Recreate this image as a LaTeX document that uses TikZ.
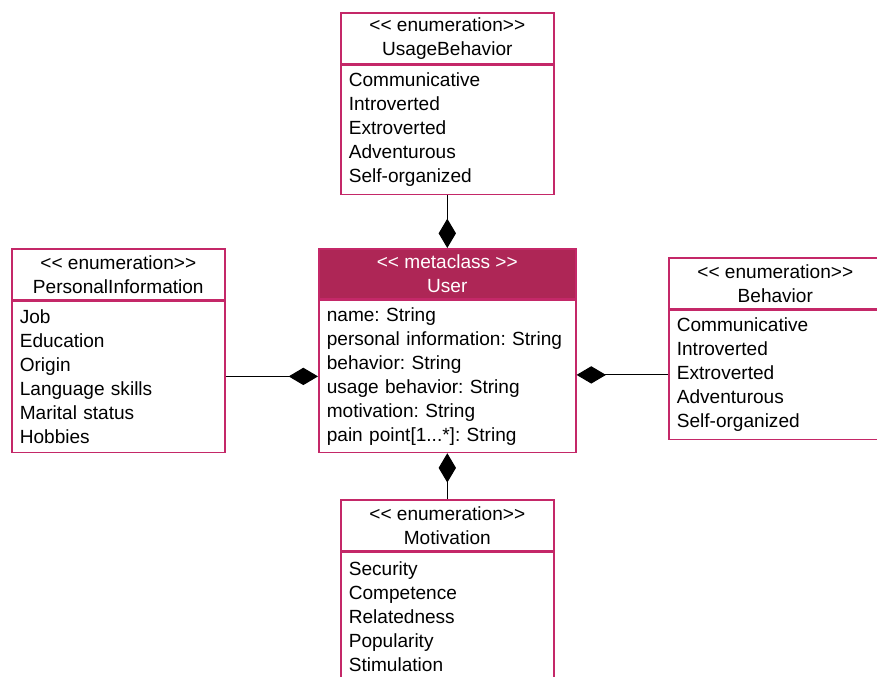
\documentclass[tikz,border=0pt]{standalone}
\usepackage{fontspec}
\setmainfont{Liberation Sans}
\usetikzlibrary{positioning,arrows.meta}

\definecolor{umlborder}{RGB}{196,40,104}
\definecolor{umlhead}{RGB}{174,38,86}

\tikzset{
  head/.style={draw=umlborder, line width=1.2pt, minimum height=38.25pt, align=center,
               inner sep=0pt, font=\fontsize{14.3}{18}\selectfont\frenchspacing},
  body/.style={draw=umlborder, line width=1.2pt, align=left, inner xsep=6pt, inner ysep=0pt,
               font=\fontsize{14.3}{18}\selectfont\frenchspacing},
  link/.style={line width=0.8pt, -{Diamond[length=22pt, width=13pt]}}
}

\begin{document}
\begin{tikzpicture}[x=0.75pt, y=-0.75pt]
                    \useasboundingbox (0,0) rectangle (877,676);
                    \begin{scope}
                    \clip (0,0) rectangle (877,676);
                    % Boxes
                    \node[head, minimum width=159.75pt, anchor=north west] (usagehead) at (340,12)
                        {{<}{<} enumeration{>}{>}\\UsageBehavior};
                    \node[body, text width=147.75pt, minimum height=96.75pt, below=0pt of usagehead] (usagebody)
                        {Communicative\\Introverted\\Extroverted\\Adventurous\\Self-organized};

                    \node[head, minimum width=159.75pt, anchor=north west] (personalhead) at (11,248)
                        {{<}{<} enumeration{>}{>}\\PersonalInformation};
                    \node[body, text width=147.75pt, minimum height=113.25pt, below=0pt of personalhead] (personalbody)
                        {Job\\Education\\Origin\\Language skills\\Marital status\\Hobbies};

                    \node[head, fill=umlhead, text=white, minimum width=192.75pt, minimum height=37.5pt,
                          anchor=north west] (userhead) at (318,248)
                        {{<}{<} metaclass {>}{>}\\User};
                    \node[body, text width=180.75pt, minimum height=114pt, below=0pt of userhead] (userbody)
                        {name: String\\personal information: String\\behavior: String\\usage behavior: String\\
                         motivation: String\\pain point[1...*]: String};

                    \node[head, minimum width=159.75pt, anchor=north west] (behaviorhead) at (668,257)
                        {{<}{<} enumeration{>}{>}\\Behavior};
                    \node[body, text width=147.75pt, minimum height=96.75pt, below=0pt of behaviorhead] (behaviorbody)
                        {Communicative\\Introverted\\Extroverted\\Adventurous\\Self-organized};

                    \node[head, minimum width=159.75pt, anchor=north west] (motivationhead) at (340,499)
                        {{<}{<} enumeration{>}{>}\\Motivation};
                    \node[body, text width=147.75pt, minimum height=96.75pt, below=0pt of motivationhead] (motivationbody)
                        {Security\\Competence\\Relatedness\\Popularity\\Stimulation};

                    % Compositions
                    \draw[link] (usagebody.south) -- (userhead.north);
                    \draw[link] (personalbody.east |- userbody.west) -- (userbody.west);
                    \draw[link] (behaviorbody.west) -- (userbody.east |- behaviorbody.west);
                    \draw[link] (motivationhead.north) -- (userbody.south);
                    \end{scope}
                \end{tikzpicture}
\end{document}
